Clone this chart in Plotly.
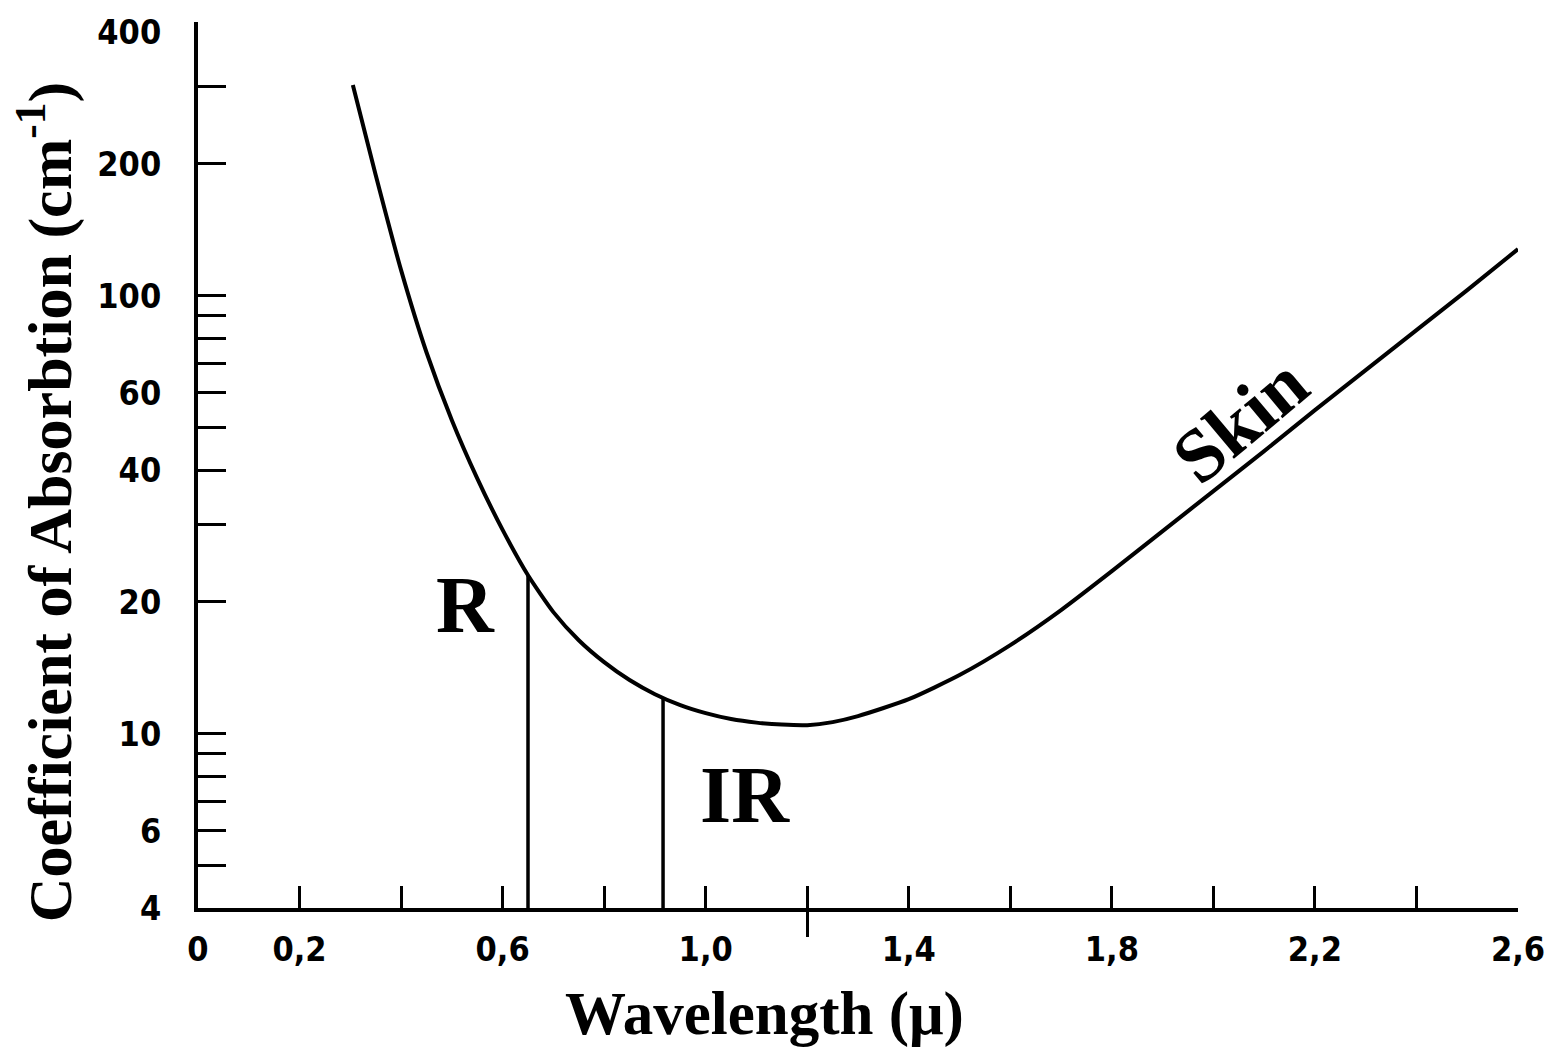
import math
import plotly.graph_objects as go

# ---- data ----
wavelength = [0.305, 0.35, 0.40, 0.45, 0.50, 0.55, 0.60, 0.65, 0.70, 0.75,
              0.80, 0.85, 0.90, 0.95, 1.00, 1.05, 1.10, 1.15, 1.20, 1.25,
              1.30, 1.40, 1.50, 1.60, 1.70, 1.80, 1.90, 2.00, 2.10, 2.20,
              2.30, 2.40, 2.50, 2.60]
absorption = [302.7, 188.6, 114.4, 74.3, 52.0, 38.3, 29.2, 23.0, 18.95, 16.35,
              14.57, 13.26, 12.31, 11.62, 11.14, 10.80, 10.60, 10.49, 10.46, 10.63,
              10.97, 11.99, 13.61, 15.93, 19.15, 23.50, 29.01, 35.81, 44.19, 54.82,
              67.65, 83.47, 103.0, 127.8]

marker_names = ["R", "IR"]
marker_lambda = [0.65, 0.916]
marker_top = [23.0, 12.1]

x_tick_vals = [0, 0.2, 0.6, 1.0, 1.4, 1.8, 2.2, 2.6]
x_tick_text = ["0", "0,2", "0,6", "1,0", "1,4", "1,8", "2,2", "2,6"]
x_tick_marks = [0.2, 0.4, 0.6, 0.8, 1.0, 1.2, 1.4, 1.6, 1.8, 2.0, 2.2, 2.4]
x_cross_marks = [1.2]

y_tick_vals = [400, 200, 100, 60, 40, 20, 10, 6, 4]
y_tick_text = ["400", "200", "100", "60", "40", "20", "10", "6", "4"]
y_tick_marks = [300, 200, 100, 90, 80, 70, 60, 50, 40, 30, 20, 10, 9, 8, 7, 6, 5]

x_range = [0, 2.6]
y_range = [math.log10(4), math.log10(400) + 0.023]

SERIF = "Liberation Serif, Times New Roman, serif"
NARROW = "Liberation Sans Narrow, DejaVu Sans Condensed, Arial Narrow, sans-serif"

fig = go.Figure()
fig.add_trace(go.Scatter(x=wavelength, y=absorption, mode="lines",
                         line=dict(color="black", width=4, shape="spline", smoothing=0.6),
                         name="Skin", showlegend=False, hoverinfo="skip"))
for lam, top in zip(marker_lambda, marker_top):
    fig.add_trace(go.Scatter(x=[lam, lam], y=[4, top], mode="lines",
                             line=dict(color="black", width=3.5),
                             showlegend=False, hoverinfo="skip"))

# carrier traces so the overlay tick axes are drawn
for xa, ya in [("x2", "y"), ("x3", "y"), ("x", "y2")]:
    fig.add_trace(go.Scatter(x=wavelength, y=absorption, mode="none",
                             xaxis=xa, yaxis=ya, showlegend=False, hoverinfo="skip"))

tickfont = dict(family=NARROW, size=34, color="black", weight="bold")

fig.update_layout(
    width=1548, height=1053,
    paper_bgcolor="white", plot_bgcolor="white",
    margin=dict(l=198, r=30, t=22, b=145, autoexpand=False),
    showlegend=False,
    xaxis=dict(range=x_range, showgrid=False, zeroline=False, automargin=False,
               showline=True, linewidth=4, linecolor="black",
               ticks="", tickvals=x_tick_vals, ticktext=x_tick_text,
               tickfont=tickfont, ticklabelstandoff=8, ticklabeloverflow="allow"),
    yaxis=dict(type="log", range=y_range, showgrid=False, zeroline=False, automargin=False,
               showline=True, linewidth=4, linecolor="black",
               ticks="", tickvals=y_tick_vals, ticktext=y_tick_text,
               tickfont=tickfont, ticklabelstandoff=26),
    xaxis2=dict(overlaying="x", anchor="y", side="bottom", range=x_range,
                showgrid=False, zeroline=False, showline=False, automargin=False,
                ticks="inside", tickvals=x_tick_marks, ticklen=22, tickwidth=3,
                tickcolor="black", showticklabels=False),
    xaxis3=dict(overlaying="x", anchor="y", side="bottom", range=x_range,
                showgrid=False, zeroline=False, showline=False, automargin=False,
                ticks="outside", tickvals=x_cross_marks, ticklen=28, tickwidth=3,
                tickcolor="black", showticklabels=False),
    yaxis2=dict(overlaying="y", anchor="x", side="left", type="log", range=y_range,
                showgrid=False, zeroline=False, showline=False, automargin=False,
                ticks="inside", tickvals=y_tick_marks, ticklen=28, tickwidth=3,
                tickcolor="black", showticklabels=False),
)

annots = [
    dict(text="<b>Wavelength (μ)</b>", xref="paper", yref="paper",
         x=0.4295, y=-0.1196, xanchor="center", yanchor="middle",
         font=dict(family=SERIF, size=61, color="black")),
    dict(text="<b>Coefficient of Absorbtion (cm<sup>-1</sup>)</b>", xref="paper", yref="paper",
         x=-0.1155, y=0.4575, xanchor="center", yanchor="middle", textangle=-90,
         font=dict(family=SERIF, size=62, color="black")),
    dict(text="<b>R</b>", x=0.527, y=math.log10(19.7), xanchor="center", yanchor="middle",
         font=dict(family=SERIF, size=80, color="black")),
    dict(text="<b>IR</b>", x=1.077, y=math.log10(7.24), xanchor="center", yanchor="middle",
         font=dict(family=SERIF, size=80, color="black")),
    dict(text="<b>Skin</b>", x=2.052, y=math.log10(52), xanchor="center", yanchor="middle",
         textangle=-40, font=dict(family=SERIF, size=76, color="black")),
]
for a in annots:
    fig.add_annotation(showarrow=False, **a)

fig.write_html("out.html",
               config={"displayModeBar": False},
               post_script="document.body.style.margin='0px';"
                           "document.body.style.overflow='hidden';"
                           "document.documentElement.style.overflow='hidden';"
                           "var g=document.querySelector('.plotly-graph-div');"
                           "if(g){g.style.overflow='hidden';}")
